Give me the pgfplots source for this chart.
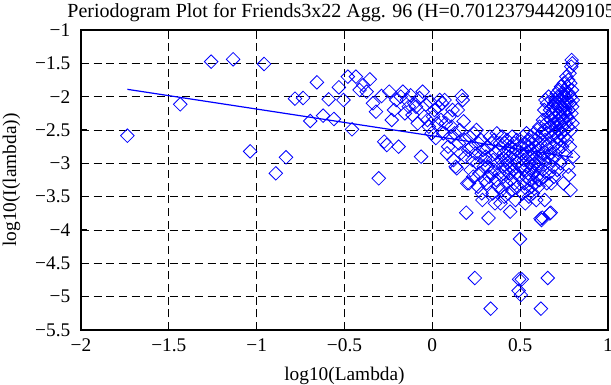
\documentclass[border=0pt]{standalone}
\usepackage{pgfplots}
\pgfplotsset{compat=1.18}
\usepackage{fontspec}
\setmainfont{Liberation Serif}
\definecolor{mblue}{RGB}{0,0,255}
\begin{document}
\fontsize{14.5pt}{17pt}\selectfont
\begin{tikzpicture}
\begin{axis}[
  at={(0,0)}, anchor=south west,
  scale only axis,
  width=395.25pt, height=225pt,
  xmin=-2, xmax=1, ymin=-5.5, ymax=-1,
  xtick={-2,-1.5,-1,-0.5,0,0.5,1},
  xticklabels={−2,−1.5,−1,−0.5,0,0.5,1},
  ytick={-5.5,-5,-4.5,-4,-3.5,-3,-2.5,-2,-1.5,-1},
  yticklabels={−5.5,−5,−4.5,−4,−3.5,−3,−2.5,−2,−1.5,−1},
  tick align=inside, xtick pos=both, ytick pos=both,
  major tick length=4.5pt,
  tick style={black, line width=0.8pt},
  axis line style={black, line width=1.1pt},
  grid=major,
  major grid style={black, line width=0.7pt, dash pattern=on 6pt off 3.5pt},
  xticklabel style={anchor=base, yshift=-16.5pt},
  yticklabel style={anchor=east, xshift=-3pt},
  xlabel={log10(Lambda)},
  ylabel={log10(I(lambda))},
  xlabel style={at={(axis description cs:0.5,-0.1667)}, anchor=base},
  ylabel style={at={(axis description cs:-0.1233,0.5)}, anchor=base, rotate=0},
  title={Periodogram Plot for Friends3x22 Agg. 96 (H=0.701237944209105)},
  title style={at={(axis description cs:0.5,1.0166)}, anchor=base, font=\fontsize{15pt}{18pt}\selectfont},
  clip=false,
]
\addplot[only marks, mark=square, mark size=3.6pt, mblue,
  mark options={rotate=45, line width=0.6pt, fill=none}] table {
x y
-1.736 -2.585
-1.435 -2.115
-1.259 -1.475
-1.134 -1.44
-1.037 -2.82
-0.958 -1.51
-0.891 -3.15
-0.833 -2.91
-0.782 -2.03
-0.736 -2.02
-0.695 -2.365
-0.657 -1.785
-0.622 -2.285
-0.590 -2.04
-0.560 -2.335
-0.532 -1.86
-0.506 -2.05
-0.481 -1.70
-0.457 -2.49
-0.435 -1.70
-0.414 -1.90
-0.394 -1.825
-0.374 -1.925
-0.356 -1.74
-0.338 -2.10
-0.321 -2.225
-0.305 -3.225
-0.289 -1.99
-0.274 -2.675
-0.259 -2.725
-0.245 -1.925
-0.231 -2.35
-0.218 -2.20
-0.205 -2.05
-0.192 -2.75
-0.180 -2.00
-0.168 -1.925
-0.156 -2.25
-0.145 -2.05
-0.134 -2.15
-0.123 -1.98
-0.113 -2.275
-0.103 -2.10
-0.093 -2.15
-0.083 -2.40
-0.073 -2.02
-0.064 -2.90
-0.055 -1.925
-0.046 -2.30
-0.037 -2.12
-0.028 -2.35
-0.020 -2.45
-0.012 -2.075
-0.004 -2.55
0.004 -2.30
0.012 -2.20
0.020 -2.62
0.027 -2.40
0.035 -2.15
0.042 -2.05
0.049 -2.35
0.056 -2.10
0.063 -2.55
0.070 -2.05
0.077 -2.40
0.084 -2.85
0.090 -2.75
0.097 -2.30
0.103 -2.60
0.109 -2.45
0.115 -2.20
0.121 -2.95
0.127 -2.55
0.133 -3.05
0.139 -3.075
0.145 -2.20
0.151 -2.70
0.156 -2.50
0.162 -2.85
0.167 -1.99
0.173 -2.05
0.178 -2.37
0.183 -2.65
0.188 -2.90
0.193 -3.74
0.199 -3.30
0.204 -2.80
0.209 -3.30
0.213 -2.60
0.218 -3.10
0.223 -2.75
0.228 -2.95
0.233 -3.20
0.237 -2.55
0.242 -4.72
0.246 -2.85
0.251 -2.50
0.255 -3.00
0.260 -3.35
0.264 -2.70
0.268 -3.15
0.273 -2.90
0.277 -2.65
0.281 -3.45
0.285 -3.55
0.289 -2.80
0.293 -3.05
0.297 -3.25
0.301 -2.95
0.305 -2.90
0.309 -3.30
0.313 -2.75
0.316 -3.05
0.320 -3.82
0.324 -3.20
0.328 -2.60
0.332 -5.18
0.335 -3.15
0.339 -2.70
0.343 -3.45
0.346 -2.95
0.350 -3.10
0.353 -2.65
0.357 -3.60
0.360 -2.85
0.364 -3.25
0.367 -2.55
0.371 -3.00
0.374 -3.35
0.378 -2.80
0.381 -3.15
0.385 -2.70
0.388 -3.60
0.391 -2.95
0.394 -3.40
0.397 -2.60
0.401 -3.05
0.404 -3.20
0.407 -2.85
0.410 -3.50
0.413 -2.70
0.416 -3.10
0.419 -2.95
0.422 -3.30
0.425 -2.65
0.428 -3.00
0.431 -3.45
0.434 -2.80
0.437 -3.15
0.440 -2.90
0.443 -3.725
0.446 -2.75
0.448 -3.25
0.451 -3.05
0.454 -2.60
0.457 -3.40
0.459 -2.85
0.462 -3.10
0.465 -2.70
0.468 -3.30
0.470 -2.95
0.473 -3.55
0.475 -2.80
0.478 -3.15
0.481 -2.65
0.483 -3.00
0.486 -3.35
0.489 -2.90
0.491 -4.91
0.494 -4.74
0.496 -3.20
0.499 -4.135
0.501 -2.75
0.504 -4.975
0.506 -3.05
0.509 -4.74
0.511 -2.85
0.514 -3.45
0.516 -2.60
0.519 -3.10
0.521 -2.95
0.524 -3.30
0.526 -2.70
0.529 -3.60
0.531 -2.85
0.533 -3.20
0.536 -2.55
0.538 -3.05
0.541 -3.40
0.543 -2.75
0.545 -3.15
0.547 -2.90
0.550 -3.50
0.552 -2.65
0.554 -3.00
0.556 -3.25
0.558 -2.80
0.561 -3.10
0.563 -2.60
0.565 -3.35
0.567 -2.90
0.569 -3.05
0.571 -2.70
0.573 -3.45
0.575 -2.85
0.577 -3.15
0.580 -2.55
0.582 -3.00
0.584 -3.30
0.586 -2.75
0.588 -3.10
0.590 -2.65
0.592 -3.55
0.594 -2.90
0.596 -3.20
0.598 -2.50
0.600 -3.05
0.602 -2.80
0.604 -3.35
0.606 -2.60
0.608 -3.00
0.610 -2.45
0.612 -3.25
0.614 -2.70
0.616 -3.83
0.618 -5.18
0.620 -2.90
0.622 -3.85
0.624 -2.55
0.626 -3.815
0.628 -3.10
0.630 -2.35
0.631 -2.85
0.633 -3.20
0.635 -2.50
0.637 -2.20
0.639 -2.95
0.640 -3.55
0.642 -2.65
0.644 -2.05
0.646 -3.00
0.648 -2.40
0.649 -2.75
0.651 -3.30
0.653 -2.10
0.655 -2.55
0.657 -4.72
0.658 -2.90
0.660 -2.30
0.662 -2.00
0.664 -2.70
0.665 -3.15
0.667 -2.45
0.669 -3.75
0.670 -2.20
0.672 -2.85
0.674 -3.74
0.676 -2.35
0.677 -3.30
0.679 -2.05
0.681 -2.60
0.682 -2.95
0.684 -2.25
0.685 -2.50
0.687 -3.05
0.689 -2.15
0.690 -2.75
0.692 -2.40
0.693 -3.20
0.695 -2.10
0.697 -2.55
0.698 -2.30
0.700 -2.90
0.701 -2.05
0.703 -2.45
0.705 -2.20
0.706 -2.70
0.708 -1.95
0.709 -2.40
0.711 -3.10
0.712 -2.15
0.714 -2.60
0.715 -2.00
0.717 -2.35
0.718 -2.80
0.720 -2.10
0.721 -2.50
0.723 -1.90
0.724 -2.25
0.726 -2.65
0.727 -2.05
0.729 -2.40
0.730 -3.00
0.732 -2.20
0.733 -1.85
0.735 -2.55
0.736 -2.30
0.738 -2.00
0.739 -2.75
0.741 -2.15
0.742 -2.45
0.744 -1.95
0.745 -2.35
0.746 -3.30
0.748 -2.10
0.749 -1.80
0.751 -2.60
0.752 -2.25
0.753 -2.00
0.755 -2.50
0.756 -1.90
0.758 -2.20
0.759 -2.85
0.760 -1.95
0.762 -2.40
0.763 -1.70
0.765 -2.10
0.766 -2.65
0.767 -2.30
0.769 -1.85
0.770 -2.05
0.771 -2.45
0.773 -3.05
0.774 -1.75
0.775 -2.20
0.777 -1.95
0.778 -3.175
0.780 -2.35
0.781 -1.65
0.783 -2.75
0.784 -2.10
0.785 -1.80
0.787 -3.40
0.788 -2.00
0.789 -2.50
0.791 -1.55
0.792 -2.25
0.793 -1.45
0.795 -1.90
0.796 -2.15
0.797 -1.50
0.798 -2.40
0.800 -2.05
0.801 -2.90
};
\addplot[mblue, line width=0.9pt, no marks] coordinates {(-1.736,-1.89) (0.801,-2.91)};
\end{axis}
\pgfresetboundingbox
\useasboundingbox (-60.75pt,-41.25pt) rectangle (397.5pt,247.5pt);
\end{tikzpicture}
\end{document}
